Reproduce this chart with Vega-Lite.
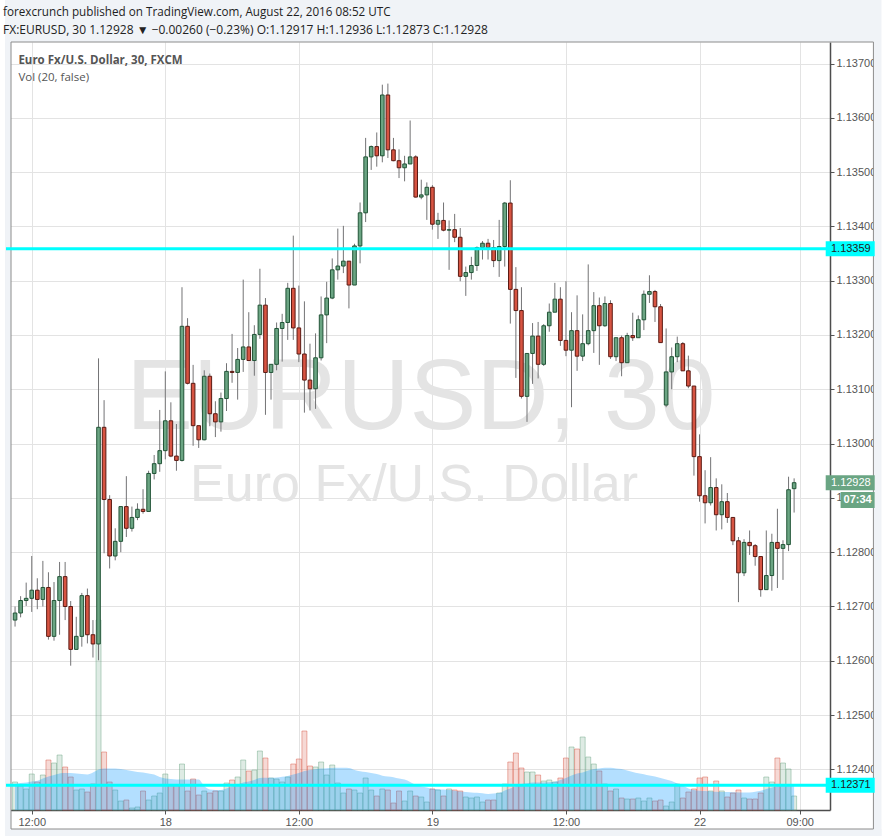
{
  "$schema": "https://vega.github.io/schema/vega-lite/v6.json",
  "description": "EURUSD 30-minute candlestick chart with volume and 20-bar volume average, FXCM, 17-22 August 2016.",
  "width": 824,
  "height": 768,
  "autosize": {"type": "none"},
  "padding": {"left": 6, "top": 42, "right": 57, "bottom": 26},
  "background": "white",
  "title": {
    "text": "forexcrunch published on TradingView.com, August 22, 2016 08:52 UTC",
    "subtitle": "FX:EURUSD, 30  1.12928 ▼ −0.00260 (−0.23%)  O:1.12917  H:1.12936  L:1.12873  C:1.12928",
    "anchor": "start",
    "frame": "group",
    "offset": 0,
    "dx": -3,
    "dy": 36,
    "font": "Open Sans",
    "fontSize": 11.7,
    "fontWeight": "normal",
    "color": "#1e1e1e",
    "subtitleFont": "Open Sans",
    "subtitleFontSize": 12,
    "subtitleFontWeight": "normal",
    "subtitleColor": "#222",
    "subtitlePadding": 6,
    "zindex": 1
  },
  "data": {
    "values": [
      {"i": -3, "o": 1.12675, "h": 1.127, "l": 1.12663, "c": 1.12688, "v": 28, "ma": 26},
      {"i": -2, "o": 1.12688, "h": 1.12719, "l": 1.1268, "c": 1.12711, "v": 24, "ma": 27},
      {"i": -1, "o": 1.12711, "h": 1.12744, "l": 1.12701, "c": 1.12715, "v": 21, "ma": 27.6},
      {"i": 0, "o": 1.12715, "h": 1.12793, "l": 1.1269, "c": 1.1273, "v": 36, "ma": 28.5},
      {"i": 1, "o": 1.1273, "h": 1.12752, "l": 1.12695, "c": 1.12713, "v": 28, "ma": 29.3},
      {"i": 2, "o": 1.12713, "h": 1.12784, "l": 1.127, "c": 1.12735, "v": 35, "ma": 31.5},
      {"i": 3, "o": 1.12735, "h": 1.12763, "l": 1.12639, "c": 1.12645, "v": 50, "ma": 33.5},
      {"i": 4, "o": 1.12645, "h": 1.12745, "l": 1.12637, "c": 1.12711, "v": 47, "ma": 35},
      {"i": 5, "o": 1.12711, "h": 1.12782, "l": 1.12648, "c": 1.12755, "v": 55, "ma": 36.5},
      {"i": 6, "o": 1.12755, "h": 1.12782, "l": 1.12675, "c": 1.127, "v": 43, "ma": 37},
      {"i": 7, "o": 1.127, "h": 1.1271, "l": 1.12591, "c": 1.12621, "v": 33, "ma": 37},
      {"i": 8, "o": 1.12621, "h": 1.12681, "l": 1.12621, "c": 1.12645, "v": 20, "ma": 36.6},
      {"i": 9, "o": 1.12645, "h": 1.12725, "l": 1.12626, "c": 1.1272, "v": 21, "ma": 36},
      {"i": 10, "o": 1.1272, "h": 1.12733, "l": 1.12632, "c": 1.12648, "v": 18, "ma": 35.5},
      {"i": 11, "o": 1.12648, "h": 1.12675, "l": 1.12606, "c": 1.12631, "v": 26, "ma": 37.5},
      {"i": 12, "o": 1.12631, "h": 1.13157, "l": 1.12601, "c": 1.1303, "v": 190, "ma": 40.5},
      {"i": 13, "o": 1.1303, "h": 1.1308, "l": 1.12798, "c": 1.12897, "v": 58, "ma": 41.6},
      {"i": 14, "o": 1.12897, "h": 1.12905, "l": 1.1277, "c": 1.12793, "v": 28, "ma": 41.6},
      {"i": 15, "o": 1.12793, "h": 1.12844, "l": 1.12785, "c": 1.1282, "v": 20, "ma": 41.6},
      {"i": 16, "o": 1.1282, "h": 1.12884, "l": 1.128, "c": 1.12884, "v": 9, "ma": 41},
      {"i": 17, "o": 1.12884, "h": 1.1294, "l": 1.12828, "c": 1.12844, "v": 10, "ma": 40},
      {"i": 18, "o": 1.12844, "h": 1.12884, "l": 1.12838, "c": 1.12864, "v": 2, "ma": 39},
      {"i": 19, "o": 1.12864, "h": 1.1289, "l": 1.12859, "c": 1.12879, "v": 3, "ma": 38},
      {"i": 20, "o": 1.12879, "h": 1.12916, "l": 1.12871, "c": 1.12875, "v": 19, "ma": 37.6},
      {"i": 21, "o": 1.12875, "h": 1.1295, "l": 1.12875, "c": 1.12945, "v": 10, "ma": 36.5},
      {"i": 22, "o": 1.12945, "h": 1.12979, "l": 1.12934, "c": 1.12963, "v": 14, "ma": 35.5},
      {"i": 23, "o": 1.12963, "h": 1.13062, "l": 1.12948, "c": 1.12987, "v": 17, "ma": 33},
      {"i": 24, "o": 1.12987, "h": 1.13133, "l": 1.12971, "c": 1.13042, "v": 36, "ma": 31.5},
      {"i": 25, "o": 1.13042, "h": 1.13076, "l": 1.12975, "c": 1.12977, "v": 25, "ma": 31},
      {"i": 26, "o": 1.12977, "h": 1.13036, "l": 1.1295, "c": 1.12969, "v": 25, "ma": 30.6},
      {"i": 27, "o": 1.12969, "h": 1.13288, "l": 1.12967, "c": 1.13216, "v": 46, "ma": 30.6},
      {"i": 28, "o": 1.13216, "h": 1.13231, "l": 1.13109, "c": 1.13111, "v": 19, "ma": 30.6},
      {"i": 29, "o": 1.13111, "h": 1.13145, "l": 1.12996, "c": 1.13033, "v": 31, "ma": 30.6},
      {"i": 30, "o": 1.13033, "h": 1.13033, "l": 1.12992, "c": 1.13007, "v": 15, "ma": 30.6},
      {"i": 31, "o": 1.13007, "h": 1.13135, "l": 1.13006, "c": 1.13124, "v": 19, "ma": 24},
      {"i": 32, "o": 1.13124, "h": 1.13129, "l": 1.13032, "c": 1.13055, "v": 17, "ma": 20.5},
      {"i": 33, "o": 1.13055, "h": 1.13078, "l": 1.13012, "c": 1.1304, "v": 19, "ma": 20},
      {"i": 34, "o": 1.1304, "h": 1.13094, "l": 1.13022, "c": 1.13083, "v": 19, "ma": 20},
      {"i": 35, "o": 1.13083, "h": 1.13148, "l": 1.1306, "c": 1.13133, "v": 27, "ma": 21.5},
      {"i": 36, "o": 1.13133, "h": 1.13202, "l": 1.13112, "c": 1.13131, "v": 30, "ma": 23.5},
      {"i": 37, "o": 1.13131, "h": 1.13176, "l": 1.13081, "c": 1.13155, "v": 33, "ma": 25.5},
      {"i": 38, "o": 1.13155, "h": 1.13302, "l": 1.13132, "c": 1.13178, "v": 50, "ma": 27.5},
      {"i": 39, "o": 1.13178, "h": 1.13242, "l": 1.13153, "c": 1.13153, "v": 39, "ma": 28.6},
      {"i": 40, "o": 1.13153, "h": 1.13218, "l": 1.13125, "c": 1.13201, "v": 40, "ma": 30},
      {"i": 41, "o": 1.13201, "h": 1.13322, "l": 1.13193, "c": 1.13255, "v": 59, "ma": 32},
      {"i": 42, "o": 1.13255, "h": 1.13268, "l": 1.13053, "c": 1.13131, "v": 52, "ma": 32.2},
      {"i": 43, "o": 1.13131, "h": 1.13146, "l": 1.13081, "c": 1.13146, "v": 32, "ma": 32.3},
      {"i": 44, "o": 1.13146, "h": 1.13223, "l": 1.13135, "c": 1.13212, "v": 31, "ma": 32.5},
      {"i": 45, "o": 1.13212, "h": 1.13239, "l": 1.13151, "c": 1.13223, "v": 28, "ma": 33.2},
      {"i": 46, "o": 1.13223, "h": 1.13296, "l": 1.13191, "c": 1.13286, "v": 33, "ma": 34},
      {"i": 47, "o": 1.13286, "h": 1.13383, "l": 1.13191, "c": 1.13213, "v": 46, "ma": 35.5},
      {"i": 48, "o": 1.13213, "h": 1.13291, "l": 1.1315, "c": 1.13165, "v": 51, "ma": 37},
      {"i": 49, "o": 1.13165, "h": 1.13262, "l": 1.13057, "c": 1.13117, "v": 79, "ma": 39},
      {"i": 50, "o": 1.13117, "h": 1.13184, "l": 1.13061, "c": 1.13101, "v": 44, "ma": 40},
      {"i": 51, "o": 1.13101, "h": 1.13203, "l": 1.13064, "c": 1.13158, "v": 43, "ma": 40.8},
      {"i": 52, "o": 1.13158, "h": 1.13271, "l": 1.13153, "c": 1.13237, "v": 48, "ma": 41.4},
      {"i": 53, "o": 1.13237, "h": 1.13298, "l": 1.13185, "c": 1.13268, "v": 35, "ma": 41.8},
      {"i": 54, "o": 1.13268, "h": 1.13341, "l": 1.13266, "c": 1.1332, "v": 45, "ma": 42},
      {"i": 55, "o": 1.1332, "h": 1.13396, "l": 1.13302, "c": 1.13327, "v": 27, "ma": 42.3},
      {"i": 56, "o": 1.13327, "h": 1.13401, "l": 1.13314, "c": 1.13336, "v": 17, "ma": 42.3},
      {"i": 57, "o": 1.13336, "h": 1.13336, "l": 1.13249, "c": 1.13292, "v": 21, "ma": 42},
      {"i": 58, "o": 1.13292, "h": 1.13368, "l": 1.13292, "c": 1.13364, "v": 20, "ma": 40},
      {"i": 59, "o": 1.13364, "h": 1.13444, "l": 1.13332, "c": 1.13425, "v": 17, "ma": 38.8},
      {"i": 60, "o": 1.13425, "h": 1.13563, "l": 1.13408, "c": 1.13528, "v": 32, "ma": 38},
      {"i": 61, "o": 1.13528, "h": 1.13549, "l": 1.13504, "c": 1.13547, "v": 20, "ma": 37},
      {"i": 62, "o": 1.13547, "h": 1.13573, "l": 1.1351, "c": 1.1353, "v": 14, "ma": 36},
      {"i": 63, "o": 1.1353, "h": 1.13661, "l": 1.13518, "c": 1.13642, "v": 21, "ma": 34.3},
      {"i": 64, "o": 1.13642, "h": 1.13663, "l": 1.13526, "c": 1.13541, "v": 20, "ma": 33.5},
      {"i": 65, "o": 1.13541, "h": 1.13563, "l": 1.1352, "c": 1.13521, "v": 7, "ma": 32.8},
      {"i": 66, "o": 1.13521, "h": 1.13542, "l": 1.13489, "c": 1.13508, "v": 19, "ma": 31.5},
      {"i": 67, "o": 1.13508, "h": 1.1353, "l": 1.13483, "c": 1.13515, "v": 9, "ma": 30.5},
      {"i": 68, "o": 1.13515, "h": 1.13595, "l": 1.13515, "c": 1.13528, "v": 19, "ma": 28},
      {"i": 69, "o": 1.13528, "h": 1.13531, "l": 1.13453, "c": 1.13454, "v": 14, "ma": 25},
      {"i": 70, "o": 1.13454, "h": 1.13486, "l": 1.1345, "c": 1.13458, "v": 13, "ma": 23.5},
      {"i": 71, "o": 1.13458, "h": 1.13481, "l": 1.13412, "c": 1.13472, "v": 8, "ma": 22.5},
      {"i": 72, "o": 1.13472, "h": 1.13476, "l": 1.13394, "c": 1.13404, "v": 21, "ma": 21.3},
      {"i": 73, "o": 1.13404, "h": 1.13425, "l": 1.13377, "c": 1.13411, "v": 20, "ma": 20.8},
      {"i": 74, "o": 1.13411, "h": 1.13444, "l": 1.13391, "c": 1.13393, "v": 14, "ma": 20.4},
      {"i": 75, "o": 1.13393, "h": 1.13411, "l": 1.1332, "c": 1.13394, "v": 21, "ma": 20},
      {"i": 76, "o": 1.13394, "h": 1.13423, "l": 1.13371, "c": 1.1338, "v": 20, "ma": 19.3},
      {"i": 77, "o": 1.1338, "h": 1.13397, "l": 1.13299, "c": 1.13308, "v": 19, "ma": 18.5},
      {"i": 78, "o": 1.13308, "h": 1.13326, "l": 1.13272, "c": 1.13315, "v": 13, "ma": 18},
      {"i": 79, "o": 1.13315, "h": 1.13344, "l": 1.13302, "c": 1.13328, "v": 12, "ma": 17.5},
      {"i": 80, "o": 1.13328, "h": 1.13363, "l": 1.13318, "c": 1.13361, "v": 13, "ma": 17.2},
      {"i": 81, "o": 1.13361, "h": 1.13373, "l": 1.13339, "c": 1.13369, "v": 8, "ma": 16.7},
      {"i": 82, "o": 1.13369, "h": 1.13377, "l": 1.13339, "c": 1.13361, "v": 10, "ma": 16},
      {"i": 83, "o": 1.13361, "h": 1.13375, "l": 1.13325, "c": 1.13337, "v": 10, "ma": 16.5},
      {"i": 84, "o": 1.13337, "h": 1.13412, "l": 1.13307, "c": 1.13363, "v": 17, "ma": 17},
      {"i": 85, "o": 1.13363, "h": 1.13445, "l": 1.13326, "c": 1.13443, "v": 26, "ma": 19.5},
      {"i": 86, "o": 1.13443, "h": 1.13485, "l": 1.13221, "c": 1.13284, "v": 48, "ma": 21.5},
      {"i": 87, "o": 1.13284, "h": 1.13325, "l": 1.13121, "c": 1.13245, "v": 57, "ma": 24},
      {"i": 88, "o": 1.13245, "h": 1.13288, "l": 1.13083, "c": 1.13087, "v": 42, "ma": 26},
      {"i": 89, "o": 1.13087, "h": 1.13166, "l": 1.1304, "c": 1.13166, "v": 38, "ma": 26.8},
      {"i": 90, "o": 1.13166, "h": 1.13222, "l": 1.1311, "c": 1.13198, "v": 38, "ma": 27.5},
      {"i": 91, "o": 1.13198, "h": 1.13224, "l": 1.1312, "c": 1.13146, "v": 35, "ma": 27.5},
      {"i": 92, "o": 1.13146, "h": 1.1322, "l": 1.13143, "c": 1.13217, "v": 29, "ma": 27.5},
      {"i": 93, "o": 1.13217, "h": 1.13258, "l": 1.13206, "c": 1.13242, "v": 30, "ma": 27.8},
      {"i": 94, "o": 1.13242, "h": 1.13296, "l": 1.13242, "c": 1.13266, "v": 28, "ma": 28.3},
      {"i": 95, "o": 1.13266, "h": 1.13288, "l": 1.1318, "c": 1.1319, "v": 32, "ma": 30},
      {"i": 96, "o": 1.1319, "h": 1.13299, "l": 1.13161, "c": 1.13172, "v": 52, "ma": 32},
      {"i": 97, "o": 1.13172, "h": 1.13242, "l": 1.13067, "c": 1.13208, "v": 63, "ma": 34.5},
      {"i": 98, "o": 1.13208, "h": 1.13273, "l": 1.13134, "c": 1.13161, "v": 61, "ma": 36.5},
      {"i": 99, "o": 1.13161, "h": 1.13238, "l": 1.13152, "c": 1.13184, "v": 73, "ma": 37.6},
      {"i": 100, "o": 1.13184, "h": 1.1333, "l": 1.13181, "c": 1.13208, "v": 53, "ma": 39.5},
      {"i": 101, "o": 1.13208, "h": 1.13279, "l": 1.13167, "c": 1.13254, "v": 46, "ma": 41},
      {"i": 102, "o": 1.13254, "h": 1.13269, "l": 1.13145, "c": 1.13217, "v": 39, "ma": 41.5},
      {"i": 103, "o": 1.13217, "h": 1.13271, "l": 1.13215, "c": 1.13258, "v": 26, "ma": 42.2},
      {"i": 104, "o": 1.13258, "h": 1.13264, "l": 1.13156, "c": 1.1316, "v": 19, "ma": 42.2},
      {"i": 105, "o": 1.1316, "h": 1.13195, "l": 1.13152, "c": 1.13195, "v": 21, "ma": 41.6},
      {"i": 106, "o": 1.13195, "h": 1.13199, "l": 1.13124, "c": 1.13149, "v": 12, "ma": 41},
      {"i": 107, "o": 1.13149, "h": 1.13204, "l": 1.13149, "c": 1.13199, "v": 11, "ma": 39.5},
      {"i": 108, "o": 1.13199, "h": 1.13241, "l": 1.13189, "c": 1.13195, "v": 11, "ma": 38},
      {"i": 109, "o": 1.13195, "h": 1.13236, "l": 1.13195, "c": 1.13228, "v": 12, "ma": 36.8},
      {"i": 110, "o": 1.13228, "h": 1.13282, "l": 1.13209, "c": 1.13275, "v": 9, "ma": 35.8},
      {"i": 111, "o": 1.13275, "h": 1.1331, "l": 1.13259, "c": 1.1328, "v": 12, "ma": 34.5},
      {"i": 112, "o": 1.1328, "h": 1.13283, "l": 1.13224, "c": 1.13252, "v": 9, "ma": 33.5},
      {"i": 113, "o": 1.13252, "h": 1.13257, "l": 1.13186, "c": 1.13186, "v": 10, "ma": 32},
      {"i": 114, "o": 1.13071, "h": 1.13212, "l": 1.13067, "c": 1.13132, "v": 4, "ma": 30.5},
      {"i": 115, "o": 1.13132, "h": 1.13177, "l": 1.131, "c": 1.1316, "v": 8, "ma": 29},
      {"i": 116, "o": 1.1316, "h": 1.13197, "l": 1.1315, "c": 1.13184, "v": 26, "ma": 26.5},
      {"i": 117, "o": 1.13184, "h": 1.13187, "l": 1.13134, "c": 1.13134, "v": 12, "ma": 24.5},
      {"i": 118, "o": 1.13134, "h": 1.13162, "l": 1.13102, "c": 1.13106, "v": 18, "ma": 21.5},
      {"i": 119, "o": 1.13106, "h": 1.13106, "l": 1.12941, "c": 1.12976, "v": 21, "ma": 20},
      {"i": 120, "o": 1.12976, "h": 1.13017, "l": 1.12893, "c": 1.12904, "v": 32, "ma": 19.3},
      {"i": 121, "o": 1.12904, "h": 1.12951, "l": 1.12853, "c": 1.12891, "v": 33, "ma": 19},
      {"i": 122, "o": 1.12891, "h": 1.12975, "l": 1.12886, "c": 1.12919, "v": 19, "ma": 18.5},
      {"i": 123, "o": 1.12919, "h": 1.12936, "l": 1.1284, "c": 1.12869, "v": 29, "ma": 18.2},
      {"i": 124, "o": 1.12869, "h": 1.12925, "l": 1.12842, "c": 1.12893, "v": 19, "ma": 18},
      {"i": 125, "o": 1.12893, "h": 1.12909, "l": 1.12854, "c": 1.12864, "v": 13, "ma": 18},
      {"i": 126, "o": 1.12864, "h": 1.12864, "l": 1.12813, "c": 1.12821, "v": 17, "ma": 17.8},
      {"i": 127, "o": 1.12821, "h": 1.12828, "l": 1.12708, "c": 1.12762, "v": 20, "ma": 17.6},
      {"i": 128, "o": 1.12762, "h": 1.12824, "l": 1.12756, "c": 1.12818, "v": 12, "ma": 17.6},
      {"i": 129, "o": 1.12818, "h": 1.1284, "l": 1.12795, "c": 1.12812, "v": 11, "ma": 17.6},
      {"i": 130, "o": 1.12812, "h": 1.12815, "l": 1.12775, "c": 1.12792, "v": 11, "ma": 18.2},
      {"i": 131, "o": 1.12792, "h": 1.12792, "l": 1.12718, "c": 1.12731, "v": 17, "ma": 19.3},
      {"i": 132, "o": 1.12731, "h": 1.1284, "l": 1.12731, "c": 1.12757, "v": 33, "ma": 21},
      {"i": 133, "o": 1.12757, "h": 1.12834, "l": 1.12729, "c": 1.12818, "v": 28, "ma": 22.6},
      {"i": 134, "o": 1.12818, "h": 1.1288, "l": 1.12734, "c": 1.12807, "v": 52, "ma": 24},
      {"i": 135, "o": 1.12807, "h": 1.12822, "l": 1.12749, "c": 1.12814, "v": 47, "ma": 25.3},
      {"i": 136, "o": 1.12814, "h": 1.12939, "l": 1.12802, "c": 1.12915, "v": 41, "ma": 26},
      {"i": 137, "o": 1.12917, "h": 1.12936, "l": 1.12873, "c": 1.12928, "v": 14, "ma": 26}
    ]
  },
  "layer": [
    {
      "layer": [
        {
          "mark": {"type": "bar", "width": 5, "strokeWidth": 1, "fillOpacity": 0.22, "strokeOpacity": 0.45},
          "encoding": {
            "x": {"field": "i", "type": "quantitative", "scale": {"domain": [-3.728, 142.55], "nice": false, "zero": false}},
            "y": {
              "field": "v",
              "type": "quantitative",
              "scale": {"domain": [0, 768], "nice": false},
              "axis": {"orient": "left", "labels": false, "ticks": false, "grid": false, "domain": true, "domainColor": "#4d4d4d", "domainWidth": 1.5, "title": null}
            },
            "y2": {"datum": 0},
            "fill": {"condition": {"test": "datum.c >= datum.o", "value": "#6ba583"}, "value": "#d75442"},
            "stroke": {"condition": {"test": "datum.c >= datum.o", "value": "#6ba583"}, "value": "#d75442"}
          }
        },
        {
          "mark": {"type": "area", "color": "#0496ff", "opacity": 0.3, "interpolate": "monotone"},
          "encoding": {
            "x": {"field": "i", "type": "quantitative"},
            "y": {"field": "ma", "type": "quantitative"}
          }
        }
      ]
    },
    {
      "layer": [
        {
          "data": {"values": [{}]},
          "mark": {"type": "rect", "color": "#f0f3f7"},
          "encoding": {
            "x": {"datum": -4.8, "type": "quantitative"},
            "x2": {"datum": 152.7},
            "y": {"datum": 1.137396, "type": "quantitative"},
            "y2": {"datum": 1.138169}
          }
        },
        {
          "data": {"values": [{}]},
          "mark": {"type": "rect", "color": "#f0f3f7"},
          "encoding": {
            "x": {"datum": -4.8, "type": "quantitative"},
            "x2": {"datum": 152.7},
            "y": {"datum": 1.122902, "type": "quantitative"},
            "y2": {"datum": 1.1227}
          }
        },
        {
          "data": {"values": [{}]},
          "mark": {"type": "rect", "color": "#f0f3f7"},
          "encoding": {
            "x": {"datum": -4.8, "type": "quantitative"},
            "x2": {"datum": -3.728},
            "y": {"datum": 1.137396, "type": "quantitative"},
            "y2": {"datum": 1.1227}
          }
        },
        {
          "data": {"values": [{}]},
          "mark": {"type": "rect", "color": "#f0f3f7"},
          "encoding": {
            "x": {"datum": 151.25, "type": "quantitative"},
            "x2": {"datum": 152.7},
            "y": {"datum": 1.137396, "type": "quantitative"},
            "y2": {"datum": 1.1227}
          }
        },
        {
          "data": {"values": [{}]},
          "mark": {"type": "rect", "filled": false, "stroke": "#8c8c8c", "strokeWidth": 1},
          "encoding": {
            "x": {"datum": -3.728, "type": "quantitative"},
            "x2": {"datum": 151.25},
            "y": {"datum": 1.137396, "type": "quantitative"},
            "y2": {"datum": 1.122902}
          }
        },
        {
          "data": {"values": [{}]},
          "mark": {"type": "text", "font": "Liberation Sans", "fontSize": 100, "color": "#e4e4e4", "align": "center", "baseline": "alphabetic"},
          "encoding": {
            "x": {"datum": 69.9, "type": "quantitative"},
            "y": {"datum": 1.130269, "type": "quantitative"},
            "text": {"value": "EURUSD, 30"}
          }
        },
        {
          "data": {"values": [{}]},
          "mark": {"type": "text", "font": "Liberation Sans", "fontSize": 52, "color": "#e4e4e4", "align": "center", "baseline": "alphabetic"},
          "encoding": {
            "x": {"datum": 68.7, "type": "quantitative"},
            "y": {"datum": 1.128943, "type": "quantitative"},
            "text": {"value": "Euro Fx/U.S. Dollar"}
          }
        },
        {
          "data": {"values": [{}]},
          "mark": {"type": "text", "font": "Open Sans", "fontSize": 11.5, "fontWeight": "bold", "color": "#555", "align": "left", "baseline": "middle"},
          "encoding": {
            "x": {"datum": -2.4, "type": "quantitative"},
            "y": {"datum": 1.137046, "type": "quantitative"},
            "text": {"value": "Euro Fx/U.S. Dollar, 30, FXCM"}
          }
        },
        {
          "data": {"values": [{}]},
          "mark": {"type": "text", "font": "Open Sans", "fontSize": 11.5, "color": "#555", "align": "left", "baseline": "middle"},
          "encoding": {
            "x": {"datum": -2.4, "type": "quantitative"},
            "y": {"datum": 1.13674, "type": "quantitative"},
            "text": {"value": "Vol (20, false)"}
          }
        },
        {
          "mark": {"type": "rule", "color": "#737375", "strokeWidth": 1},
          "encoding": {
            "x": {
              "field": "i",
              "type": "quantitative",
              "scale": {"domain": [-3.728, 142.55], "nice": false, "zero": false},
              "axis": {
                "orient": "bottom",
                "values": [0, 24, 48, 72, 96, 120, 138],
                "labelExpr": "datum.value == 24 ? '18' : datum.value == 72 ? '19' : datum.value == 120 ? '22' : datum.value == 138 ? '09:00' : '12:00'",
                "grid": true,
                "gridColor": "#e3e3e3",
                "tickSize": 4,
                "tickColor": "#555",
                "domainColor": "#4d4d4d",
                "domainWidth": 1.5,
                "labelColor": "#555",
                "labelFont": "Liberation Sans",
                "labelFontSize": 11,
                "labelPadding": 2,
                "labelFlush": false,
                "labelOverlap": false,
                "title": null
              }
            },
            "y": {
              "field": "l",
              "type": "quantitative",
              "scale": {"domain": [1.123252, 1.137396], "nice": false, "zero": false},
              "axis": {
                "orient": "right",
                "values": [1.124, 1.125, 1.126, 1.127, 1.128, 1.129, 1.13, 1.131, 1.132, 1.133, 1.134, 1.135, 1.136, 1.137],
                "format": ".5f",
                "grid": true,
                "gridColor": "#e3e3e3",
                "tickSize": 4,
                "tickColor": "#555",
                "domainColor": "#4d4d4d",
                "domainWidth": 1.5,
                "labelColor": "#555",
                "labelFont": "Liberation Sans",
                "labelFontSize": 11,
                "labelPadding": 2,
                "labelOverlap": false,
                "title": null
              }
            },
            "y2": {"field": "h"}
          }
        },
        {
          "mark": {"type": "bar", "width": 3.6, "strokeWidth": 1},
          "encoding": {
            "x": {"field": "i", "type": "quantitative"},
            "y": {"field": "o", "type": "quantitative"},
            "y2": {"field": "c"},
            "fill": {"condition": {"test": "datum.c >= datum.o", "value": "#6ba583"}, "value": "#d75442"},
            "stroke": {"condition": {"test": "datum.c >= datum.o", "value": "#225437"}, "value": "#5b1a13"}
          }
        },
        {
          "data": {"values": [{"p": 1.13359, "label": "1.13359", "kind": "line"}, {"p": 1.12371, "label": "1.12371", "kind": "line"}]},
          "mark": {"type": "rule", "color": "#00ffff", "strokeWidth": 3},
          "encoding": {
            "y": {"field": "p", "type": "quantitative"}
          }
        },
        {
          "data": {"values": [{"p": 1.13359, "label": "1.13359", "kind": "line"}, {"p": 1.12371, "label": "1.12371", "kind": "line"}, {"p": 1.12928, "label": "1.12928", "kind": "last"}]},
          "mark": {"type": "tick", "orient": "horizontal", "size": 49, "thickness": 15, "opacity": 1},
          "encoding": {
            "x": {"datum": 147.08, "type": "quantitative"},
            "y": {"field": "p", "type": "quantitative"},
            "color": {"condition": {"test": "datum.kind == 'last'", "value": "#6aa583"}, "value": "#00ffff"}
          }
        },
        {
          "data": {"values": [{"p": 1.13359, "label": "1.13359", "kind": "line"}, {"p": 1.12371, "label": "1.12371", "kind": "line"}, {"p": 1.12928, "label": "1.12928", "kind": "last"}]},
          "mark": {"type": "text", "font": "Liberation Sans", "fontSize": 11, "align": "left", "baseline": "middle"},
          "encoding": {
            "x": {"datum": 143.62, "type": "quantitative"},
            "y": {"field": "p", "type": "quantitative"},
            "text": {"field": "label"},
            "color": {"condition": {"test": "datum.kind == 'last'", "value": "#ffffff"}, "value": "#222222"}
          }
        },
        {
          "data": {"values": [{"p": 1.128961, "label": "07:34"}]},
          "mark": {"type": "tick", "orient": "horizontal", "size": 34, "thickness": 16, "color": "#6aa583", "opacity": 1},
          "encoding": {
            "x": {"datum": 148.41, "type": "quantitative"},
            "y": {"field": "p", "type": "quantitative"}
          }
        },
        {
          "data": {"values": [{"p": 1.128961, "label": "07:34"}]},
          "mark": {"type": "text", "font": "Liberation Sans", "fontSize": 11, "fontWeight": "bold", "color": "#ffffff", "align": "center", "baseline": "middle"},
          "encoding": {
            "x": {"datum": 148.41, "type": "quantitative"},
            "y": {"field": "p", "type": "quantitative"},
            "text": {"field": "label"}
          }
        }
      ]
    }
  ],
  "resolve": {"scale": {"y": "independent"}},
  "config": {
    "view": {"stroke": null}
  }
}
